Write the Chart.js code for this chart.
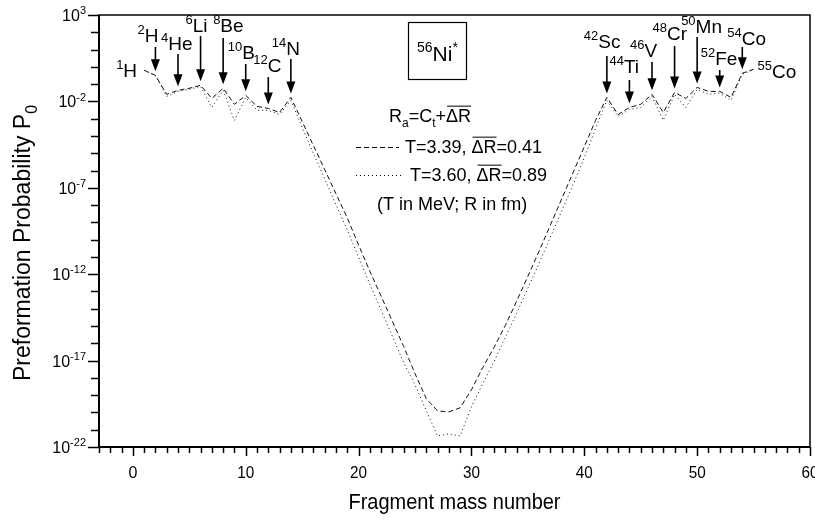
<!DOCTYPE html>
<html>
<head>
<meta charset="utf-8">
<script src="https://cdn.jsdelivr.net/npm/chart.js@4.4.1/dist/chart.umd.min.js"></script>
<style>
  html, body { margin: 0; padding: 0; background: #fff; }
  #wrap { width: 815px; height: 520px; }
</style>
</head>
<body>
<div id="wrap"><canvas id="chart" width="815" height="520"></canvas></div>
<script>
// fragment mass numbers A
const massNumbers = [1, 2, 3, 4, 5, 6, 7, 8, 9, 10, 11, 12, 13, 14, 15, 16, 17, 18, 19, 20,
  21, 22, 23, 24, 25, 26, 27, 28, 29, 30, 31, 32, 33, 34, 35, 36, 37, 38, 39, 40,
  41, 42, 43, 44, 45, 46, 47, 48, 49, 50, 51, 52, 53, 54, 55];

// log10 of P0, T=3.39, dR=0.41 (dashed)
const dashedExp = [-0.20, -0.49, -1.59, -1.36, -1.24, -1.07, -1.83, -1.24, -2.17, -1.65,
  -2.29, -2.41, -2.64, -1.77, -3.16, -4.56, -5.95, -7.35, -8.74, -10.31,
  -11.83, -13.28, -14.73, -16.19, -17.75, -19.20, -19.91, -19.97, -19.73, -18.69,
  -17.41, -16.24, -14.97, -13.57, -12.12, -10.66, -9.15, -7.64, -6.13, -4.62,
  -3.10, -1.77, -2.76, -2.35, -2.17, -1.59, -2.64, -1.48, -1.83, -1.19,
  -1.42, -1.42, -1.77, -0.37, -0.14];

// log10 of P0, T=3.60, dR=0.89 (dotted)
const dottedExp = [-0.20, -0.52, -1.71, -1.42, -1.30, -1.13, -2.35, -1.36, -3.10, -1.77,
  -2.52, -2.52, -2.76, -1.94, -3.51, -5.02, -6.48, -7.99, -9.44, -11.01,
  -12.58, -14.09, -15.60, -17.12, -18.40, -19.90, -21.36, -21.24, -21.36, -19.67,
  -18.34, -17.06, -15.66, -14.27, -12.81, -11.36, -9.85, -8.34, -6.83, -5.26,
  -3.57, -1.94, -2.87, -2.47, -2.35, -1.71, -3.10, -1.59, -2.35, -1.30,
  -1.59, -1.52, -1.94, -0.43, -0.17];

const xTickValues = [0, 10, 20, 30, 40, 50, 60];
const yTickExponents = [3, -2, -7, -12, -17, -22];

// marked fragments
const fragMass = [1, 2, 4, 6, 8, 10, 12, 14, 42, 44, 46, 48, 50, 52, 54, 55];
const fragSup = ['1', '2', '4', '6', '8', '10', '12', '14', '42', '44', '46', '48', '50', '52', '54', '55'];
const fragSym = ['H', 'H', 'He', 'Li', 'Be', 'B', 'C', 'N', 'Sc', 'Ti', 'V', 'Cr', 'Mn', 'Fe', 'Co', 'Co'];

// label layout: text baseline y, arrow start y (null = no arrow), text offset from the arrow
const fragLayout = [
  { base: 77, top: null, dx: -28 },
  { base: 42, top: 47, dx: -18 },
  { base: 50, top: 54, dx: -17 },
  { base: 32, top: 36, dx: -15 },
  { base: 32, top: 38, dx: -10 },
  { base: 59, top: 64, dx: -18 },
  { base: 72, top: 77, dx: -15 },
  { base: 55, top: 59, dx: -19 },
  { base: 48, top: 56, dx: -23 },
  { base: 73, top: 80, dx: -20 },
  { base: 57, top: 62, dx: -22 },
  { base: 40, top: 46, dx: -22 },
  { base: 33, top: 37, dx: -16 },
  { base: 65, top: 70, dx: -19 },
  { base: 45, top: 47, dx: -15 },
  { base: 78, top: null, dx: 4 }
];

const FONT = '"Liberation Sans", Arial, Helvetica, sans-serif';
const font = px => px + 'px ' + FONT;

// draw runs of text with sub/superscripts and overlines
function drawRuns(ctx, runs, x, y, size, doDraw) {
  let cx = x;
  runs.forEach(r => {
    const s = (r.sub || r.sup) ? Math.round(size * 0.68) : size;
    const dy = r.sub ? size * 0.3 : (r.sup ? -size * 0.42 : 0);
    ctx.font = font(s);
    const w = ctx.measureText(r.t).width;
    if (doDraw) {
      ctx.fillText(r.t, cx, y + dy);
      if (r.over) {
        ctx.beginPath();
        ctx.lineWidth = 1;
        ctx.moveTo(cx + 1, y - size * 0.88);
        ctx.lineTo(cx + w, y - size * 0.88);
        ctx.stroke();
      }
    }
    cx += w;
  });
  return cx - x;
}

const overlay = {
  id: 'overlay',
  afterDraw(chart) {
    const ctx = chart.ctx;
    const xs = chart.scales.x, ys = chart.scales.y;
    const a = chart.chartArea;
    ctx.save();
    ctx.fillStyle = '#000';
    ctx.strokeStyle = '#000';
    ctx.textBaseline = 'alphabetic';

    // frame
    ctx.lineWidth = 1.5;
    ctx.strokeRect(a.left, a.top, a.right - a.left, a.bottom - a.top);
    ctx.lineWidth = 2;
    ctx.beginPath();
    ctx.moveTo(a.left, a.top); ctx.lineTo(a.left, a.bottom); ctx.lineTo(a.right, a.bottom);
    ctx.stroke();

    // y ticks, one per decade
    ctx.lineWidth = 1.5;
    for (let k = -22; k <= 3; k++) {
      const y = Math.round(ys.getPixelForValue(Math.pow(10, k))) + 0.5;
      const len = yTickExponents.includes(k) ? 11 : 8;
      ctx.beginPath(); ctx.moveTo(a.left - len, y); ctx.lineTo(a.left, y); ctx.stroke();
    }
    // x ticks, one per unit
    for (let v = -3; v <= 60; v++) {
      const x = Math.round(xs.getPixelForValue(v)) + 0.5;
      const len = v % 10 === 0 ? 9 : 6;
      ctx.beginPath(); ctx.moveTo(x, a.bottom); ctx.lineTo(x, a.bottom + len); ctx.stroke();
    }

    // y tick labels 10^k
    yTickExponents.forEach(k => {
      const y = ys.getPixelForValue(Math.pow(10, k)) + 6;
      const runs = [{ t: '10' }, { t: String(k), sup: true }];
      const w = drawRuns(ctx, runs, 0, y, 16, false);
      drawRuns(ctx, runs, 86 - w, y, 16, true);
    });

    // x tick labels
    ctx.font = font(16);
    ctx.textAlign = 'center';
    xTickValues.forEach(v => {
      ctx.fillText(String(v), xs.getPixelForValue(v), a.bottom + 31, 17);
    });

    // axis titles
    ctx.font = font(22);
    ctx.fillText('Fragment mass number', (a.left + a.right) / 2, 509, 212);
    ctx.textAlign = 'left';
    ctx.save();
    ctx.translate(30, 243);
    ctx.rotate(-Math.PI / 2);
    const yt = [{ t: 'Preformation Probability P' }, { t: '0', sub: true }];
    const ytw = drawRuns(ctx, yt, 0, 0, 23, false);
    drawRuns(ctx, yt, -ytw / 2, 0, 23, true);
    ctx.restore();

    // fragment labels and arrows
    fragMass.forEach((m, i) => {
      const L = fragLayout[i];
      const x = xs.getPixelForValue(m);
      drawRuns(ctx, [{ t: fragSup[i], sup: true }, { t: fragSym[i] }], x + L.dx, L.base, 19, true);
      if (L.top !== null) {
        const tip = ys.getPixelForValue(Math.pow(10, dashedExp[m - 1])) - 4;
        ctx.lineWidth = 1.6;
        ctx.beginPath(); ctx.moveTo(x, L.top); ctx.lineTo(x, tip - 10); ctx.stroke();
        ctx.beginPath();
        ctx.moveTo(x - 4.5, tip - 12); ctx.lineTo(x + 4.5, tip - 12); ctx.lineTo(x, tip);
        ctx.closePath(); ctx.fill();
      }
    });

    // nucleus box
    ctx.lineWidth = 1.2;
    ctx.strokeRect(408.5, 22.5, 58, 57);
    drawRuns(ctx, [{ t: '56', sup: true }, { t: 'Ni' }, { t: '*', sup: true }], 417, 61, 21, true);

    // legend text
    const r1 = [{ t: 'R' }, { t: 'a', sub: true }, { t: '=C' }, { t: 't', sub: true }, { t: '+' }, { t: '\u0394R', over: true }];
    drawRuns(ctx, r1, 389, 122, 18, true);
    drawRuns(ctx, [{ t: 'T=3.39, ' }, { t: '\u0394R', over: true }, { t: '=0.41' }], 405, 153, 18, true);
    drawRuns(ctx, [{ t: 'T=3.60, ' }, { t: '\u0394R', over: true }, { t: '=0.89' }], 410, 181, 18, true);
    drawRuns(ctx, [{ t: '(T in MeV; R in fm)' }], 377, 210, 18, true);

    ctx.lineWidth = 1;
    ctx.setLineDash([5, 3]);
    ctx.beginPath(); ctx.moveTo(356, 147.5); ctx.lineTo(399, 147.5); ctx.stroke();
    ctx.setLineDash([1, 3]);
    ctx.beginPath(); ctx.moveTo(356, 175.5); ctx.lineTo(402, 175.5); ctx.stroke();
    ctx.setLineDash([]);
    ctx.restore();
  }
};

const toPoints = exps => massNumbers.map((m, i) => ({ x: m, y: Math.pow(10, exps[i]) }));

new Chart(document.getElementById('chart'), {
  type: 'line',
  data: {
    datasets: [
      {
        label: 'T=3.39, dR=0.41',
        data: toPoints(dashedExp),
        borderColor: '#111',
        borderWidth: 1,
        borderDash: [5, 3],
        pointRadius: 0,
        tension: 0,
        fill: false
      },
      {
        label: 'T=3.60, dR=0.89',
        data: toPoints(dottedExp),
        borderColor: '#111',
        borderWidth: 1,
        borderDash: [1, 3],
        pointRadius: 0,
        tension: 0,
        fill: false
      }
    ]
  },
  options: {
    responsive: false,
    animation: false,
    layout: { padding: { top: 15, right: 5, left: 0, bottom: 0 } },
    plugins: { legend: { display: false }, tooltip: { enabled: false } },
    scales: {
      x: {
        type: 'linear', min: -3, max: 60,
        grid: { display: false }, border: { display: false },
        ticks: { display: false },
        afterFit: s => { s.height = 73; }
      },
      y: {
        type: 'logarithmic', min: 1e-22, max: 1e3,
        grid: { display: false }, border: { display: false },
        ticks: { display: false },
        afterFit: s => { s.width = 99; }
      }
    }
  },
  plugins: [overlay]
});
</script>
</body>
</html>
